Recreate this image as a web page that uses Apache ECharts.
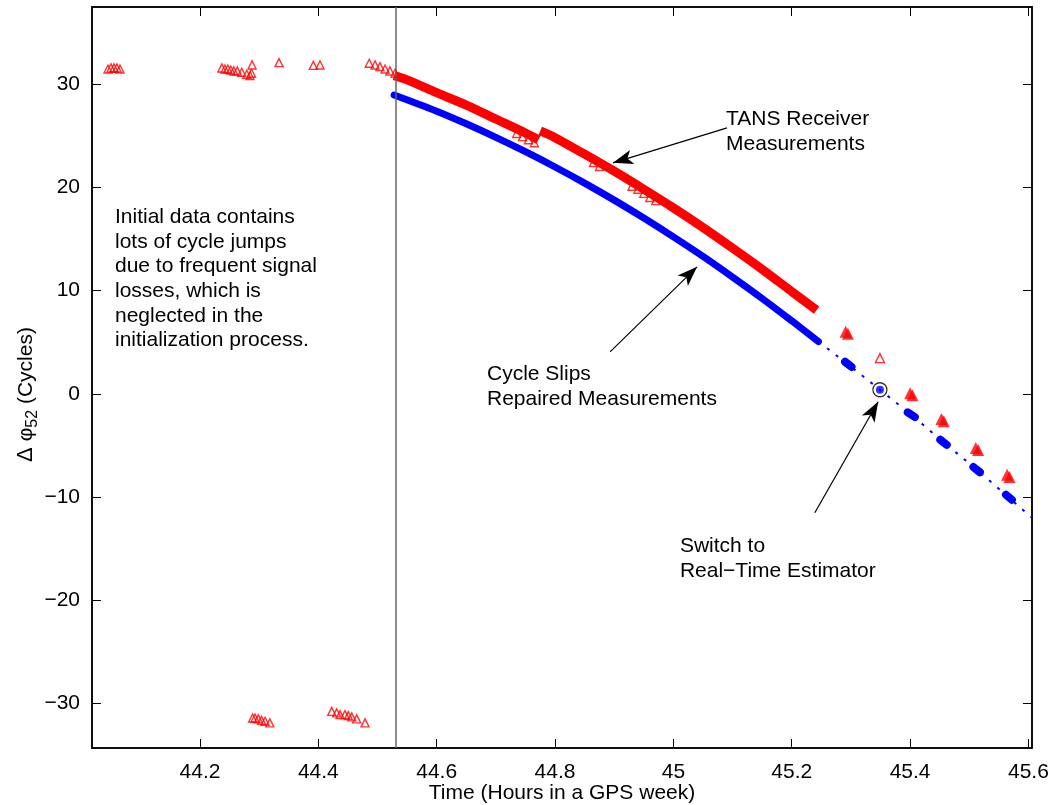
<!DOCTYPE html>
<html>
<head>
<meta charset="utf-8">
<script src="https://cdn.jsdelivr.net/npm/echarts@6/dist/echarts.min.js"></script>
<style>html,body{margin:0;padding:0;background:#fff}#c{width:1055px;height:805px}</style>
</head>
<body>
<div id="c"></div>
<script>
// ---------- data ----------
const xTicks = [44.2, 44.4, 44.6, 44.8, 45, 45.2, 45.4, 45.6];
const yTicks = [-30, -20, -10, 0, 10, 20, 30];
const initTime = 44.528;

// early raw TANS measurements (open triangles)
const redEarly = [
  [44.0445,31.45],[44.0496,31.55],[44.0547,31.55],[44.0597,31.55],[44.0648,31.45],
  [44.237,31.55],[44.242,31.45],[44.247,31.45],[44.252,31.35],[44.257,31.26],[44.263,31.26],
  [44.2705,31.13],[44.279,30.94],[44.2845,30.81],[44.287,31.03],[44.288,31.84],
  [44.3335,32.06],[44.3915,31.8],[44.4028,31.84],
  [44.486,32.0],[44.4958,31.84],[44.504,31.68],[44.5127,31.45],[44.521,31.26],[44.5296,31.04],
  [44.289,-31.39],[44.293,-31.39],[44.2985,-31.48],[44.304,-31.62],[44.31,-31.71],[44.318,-31.87],
  [44.4226,-30.75],[44.431,-30.9],[44.4366,-31.07],[44.445,-31.07],[44.4506,-31.16],[44.4564,-31.29],[44.4648,-31.48],[44.4789,-31.87]
];
// TANS measurements after initialization (dense band, two arcs)
const redArc1 = [[44.528,30.8],[44.55,30.4],[44.60,29.15],[44.65,27.95],[44.70,26.6],[44.75,25.25],[44.772,24.6]];
const redArc2 = [[44.775,25.45],[44.80,24.8],[44.85,23.2],[44.90,21.55],[44.95,19.8],[45.00,18.0],[45.05,16.1],[45.10,14.1],[45.15,12.05],[45.20,9.9],[45.242,8.1]];
const redEdge = [[44.735,25.2],[44.745,24.9],[44.755,24.6],[44.765,24.3],[44.865,22.4],[44.875,22.0],
  [44.93,20.1],[44.94,19.8],[44.95,19.4],[44.96,19.0],[44.97,18.7]];
// TANS measurements during real-time phase
const redLateFilled = [[45.291,6.0],[45.295,5.8],[45.400,0.05],[45.404,-0.15],[45.453,-2.45],[45.457,-2.65],[45.511,-5.25],[45.515,-5.45],[45.564,-7.85],[45.568,-8.05]];
const redLateOpen = [[45.349,3.45]];
// cycle-slip repaired measurements
const blueArc = [[44.528,28.93],[44.60,27.36],[44.65,26.14],[44.70,24.83],[44.75,23.44],[44.80,21.96],[44.85,20.40],[44.90,18.75],
  [44.95,17.01],[45.00,15.19],[45.05,13.30],[45.10,11.30],[45.15,9.23],[45.20,7.06],[45.245,5.06]];
// real-time estimator
const blueEst = [[45.245,5.06],[45.295,2.85],[45.349,0.39],[45.402,-2.03],[45.456,-4.67],[45.513,-7.35],[45.566,-10.0],[45.606,-12.0]];
const blueClusters = [[45.290,3.1],[45.301,2.6],null,[45.396,-1.8],[45.408,-2.25],null,[45.451,-4.45],[45.462,-4.94],null,
  [45.507,-7.1],[45.518,-7.6],null,[45.562,-9.77],[45.572,-10.26]];
const switchPoint = [45.349, 0.39];

// annotations (data coordinates)
const notes = [
  {pos:[44.0563,18.3], lines:['Initial data contains','lots of cycle jumps','due to frequent signal','losses, which is','neglected in the','initialization process.']},
  {pos:[45.089,27.8], lines:['TANS Receiver','Measurements']},
  {pos:[44.685,3.1], lines:['Cycle Slips','Repaired Measurements']},
  {pos:[45.011,-13.6], lines:['Switch to','Real\u2212Time Estimator']}
];
const arrows = [
  [[45.0907,25.74],[44.898,22.36]],
  [[44.893,4.06],[45.040,12.29]],
  [[45.239,-11.52],[45.346,-0.77]]
];

// ---------- chart ----------
const FONT = 'Liberation Sans';
const FS = 21;
const fmt = v => String(v).replace('-', '\u2212');
const chart = echarts.init(document.getElementById('c'));
const tickCommon = {show:true, inside:true, length:9, lineStyle:{color:'#000', width:1}};
const openTri = {color:'rgba(255,255,255,0)', borderColor:'#ff0000', borderWidth:1.4};

chart.setOption({
  animation:false,
  backgroundColor:'#fff',
  grid:{left:92, right:23, top:7, bottom:57, show:true, borderColor:'#000', borderWidth:1.5,
        outerBoundsMode:'none', containLabel:false},
  xAxis:[{
    type:'value', min:44.0175, max:45.606, position:'bottom',
    axisLine:{show:true, onZero:false, lineStyle:{color:'#000', width:1.5}},
    axisTick:Object.assign({customValues:xTicks}, tickCommon),
    axisLabel:{customValues:xTicks, formatter:fmt, color:'#000', fontFamily:FONT, fontSize:FS, margin:14},
    splitLine:{show:false},
    name:'Time (Hours in a GPS week)', nameLocation:'middle', nameGap:35, nameMoveOverlap:false,
    nameTextStyle:{color:'#000', fontFamily:FONT, fontSize:FS}
  },{
    type:'value', min:44.0175, max:45.606, position:'top',
    axisLine:{show:true, onZero:false, lineStyle:{color:'#000', width:1.5}},
    axisTick:Object.assign({customValues:xTicks}, tickCommon),
    axisLabel:{show:false}, splitLine:{show:false}
  }],
  yAxis:[{
    type:'value', min:-34.3, max:37.45, position:'left',
    axisLine:{show:true, onZero:false, lineStyle:{color:'#000', width:1.5}},
    axisTick:Object.assign({customValues:yTicks}, tickCommon),
    axisLabel:{customValues:yTicks, formatter:fmt, color:'#000', fontFamily:FONT, fontSize:FS, margin:12},
    splitLine:{show:false},
    name:'{d|\u0394}{m| \u03c6}{s|52}{m| (Cycles)}', nameLocation:'middle', nameGap:51, nameRotate:90, nameMoveOverlap:false,
    nameTextStyle:{color:'#000', fontFamily:FONT, fontSize:FS, padding:[0,34,0,0],
      rich:{d:{fontFamily:FONT, fontSize:22, color:'#000', lineHeight:30, verticalAlign:'middle'},
            m:{fontFamily:FONT, fontSize:FS, color:'#000', lineHeight:30, verticalAlign:'middle'},
            s:{fontFamily:FONT, fontSize:16, color:'#000', lineHeight:30, verticalAlign:'bottom'}}}
  },{
    type:'value', min:-34.3, max:37.45, position:'right',
    axisLine:{show:true, onZero:false, lineStyle:{color:'#000', width:1.5}},
    axisTick:Object.assign({customValues:yTicks}, tickCommon),
    axisLabel:{show:false}, splitLine:{show:false}
  }],
  series:[
    {type:'line', data:blueArc, showSymbol:false, smooth:0.3, lineStyle:{color:'#0000ff', width:7, cap:'round'}, z:3,
      markLine:{silent:true, symbol:['none','none'], label:{show:false},
        lineStyle:{color:'#666', width:1.5, type:'solid'}, data:[{xAxis:initTime}]}},
    {type:'line', data:blueEst, showSymbol:false, lineStyle:{color:'#0000ff', width:2, type:[3,8]}, z:3},
    {type:'line', data:blueClusters, showSymbol:false, connectNulls:false, lineStyle:{color:'#0000ff', width:8, cap:'round'}, z:3},
    {type:'line', data:redArc1, showSymbol:false, smooth:0.3, lineStyle:{color:'#ff0000', width:9}, z:4},
    {type:'line', data:redArc2, showSymbol:false, smooth:0.3, lineStyle:{color:'#ff0000', width:9}, z:4},
    {type:'scatter', data:redEdge, symbol:'triangle', symbolSize:8, itemStyle:openTri, z:5},
    {type:'scatter', data:redEarly, symbol:'triangle', symbolSize:8, itemStyle:openTri, z:5},
    {type:'scatter', data:redLateFilled, symbol:'triangle', symbolSize:12, itemStyle:{color:'#ff0000'}, z:5},
    {type:'scatter', data:redLateOpen, symbol:'triangle', symbolSize:9, itemStyle:openTri, z:5},
    {type:'scatter', data:[switchPoint], symbol:'circle', symbolSize:14, itemStyle:{color:'rgba(255,255,255,0)', borderColor:'#000', borderWidth:1.3}, z:6},
    {type:'scatter', data:[switchPoint], symbol:'circle', symbolSize:8, itemStyle:{color:'#0000ff'}, z:7},
    {type:'line', data:[], z:8,
      markLine:{silent:true, symbol:['none','arrow'], symbolSize:[11,20], label:{show:false},
        lineStyle:{color:'#000', width:1.2, type:'solid'},
        data:arrows.map(a => [{coord:a[0]}, {coord:a[1]}])}}
  ]
});

function drawNotes(){
  const els = notes.map(n => {
    const p = chart.convertToPixel({gridIndex:0}, n.pos);
    return {type:'text', left:p[0], top:p[1], z:10,
      style:{text:n.lines.join('\n'), font:FS + 'px ' + FONT, fill:'#000', lineHeight:24.7}};
  });
  chart.setOption({graphic:els});
}
drawNotes();
</script>
</body>
</html>
